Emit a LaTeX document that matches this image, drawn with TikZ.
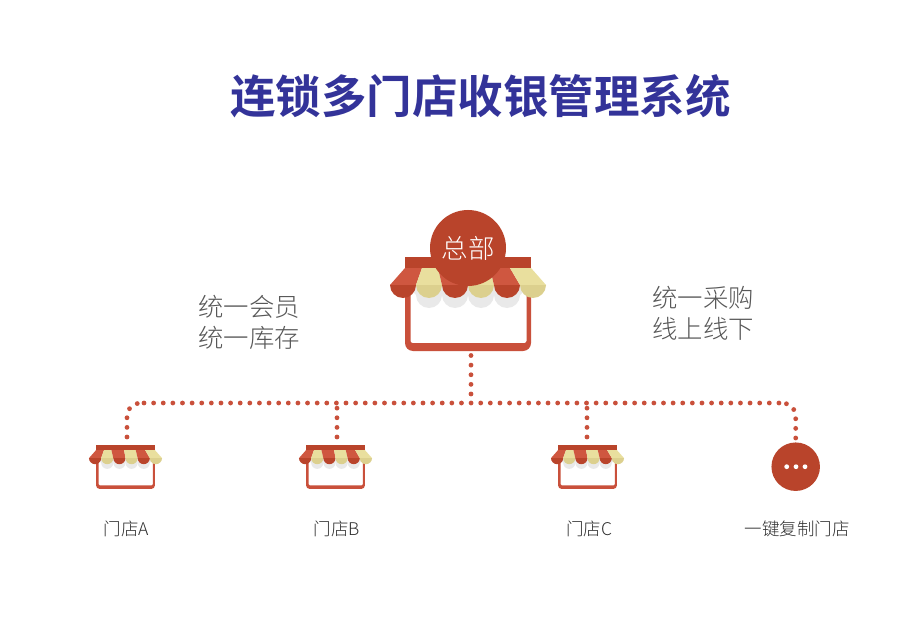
\documentclass[tikz,border=0pt]{standalone}
\usepackage{fontspec}
\setmainfont{Noto Sans CJK SC}
\newfontfamily\cjkbold[BoldFont=*]{Noto Sans CJK SC Bold}
\newfontfamily\cjklight{Noto Sans CJK SC Light}
\definecolor{brick}{HTML}{B9442B}
\definecolor{bodyred}{HTML}{C9503B}
\definecolor{lightred}{HTML}{CF5740}
\definecolor{lightyel}{HTML}{E9DF9E}
\definecolor{darkyel}{HTML}{DCD08E}
\definecolor{lobegrey}{HTML}{E9E9E9}
\definecolor{titleblue}{HTML}{333399}
\tikzset{
  x=1pt,y=-1pt,
  busline/.style={draw=bodyred,line width=4.8pt,line cap=round,dash pattern=on 0pt off 9.62pt},
  hubdisc/.style={circle,fill=brick,inner sep=0pt,text=white},
  captiontext/.style={text=black!82,font=\cjklight\fontsize{17.5}{21}\selectfont,inner sep=0pt},
  sidetext/.style={text=black!66,font=\cjklight\fontsize{25.4}{31}\selectfont,align=left,inner sep=0pt,anchor=west},
  storebox/.style={rectangle,inner sep=0pt,minimum width=#1*156pt,minimum height=#1*94pt,anchor=north},
  pics/shop/.style={code={
    % body frame: open at the top, rounded at the bottom
    \fill[bodyred] (-63,20) [rounded corners=#1*8pt] -- (-63,94) -- (63,94) [sharp corners] -- (63,20) -- (58.5,20) [rounded corners=#1*2pt] -- (58.5,86) -- (-57.5,86) [sharp corners] -- (-57.5,20) -- cycle;
    % grey lobes
    \foreach \c in {-39,-13,13,39}{\fill[lobegrey] (\c-13,28) -- (\c+13,28) -- (\c+13,38) arc[start angle=0,end angle=180,radius=13] -- (\c-13,28) -- cycle;}
    \fill[lobegrey] (-57.5,28) -- (-52,28) -- (-52,38) -- (-57.5,32) -- cycle;
    \fill[lobegrey] (58.5,28) -- (52,28) -- (52,38) -- (58.5,32) -- cycle;
    % bar
    \fill[brick] (-63,0) rectangle (63,11);
    % awning
    \foreach \xa/\xb/\xc/\cl/\cd in {-63/-46/-78/lightred/brick,-46/-30/-52/lightyel/darkyel,-30/-3/-26/lightred/brick,-3/22/0/lightyel/darkyel,22/42/26/lightred/brick,42/63/52/lightyel/darkyel}{
      \pgfmathsetmacro\xd{\xc+26}
      \fill[\cl] (\xa,11) -- (\xb,11) -- (\xd,28) -- (\xc,28) -- cycle;
      \fill[\cd] (\xc,28) arc[start angle=180,end angle=0,radius=13] -- cycle;
    }
  }}
}
\begin{document}
\begin{tikzpicture}
\useasboundingbox (0,0) rectangle (913,639);
\fill[white] (0,0) rectangle (913,639);
% title
\node[text=titleblue,inner sep=0pt] (title) at (480.5,96) {\fontsize{45.5}{50}\selectfont\addfontfeature{FakeBold=1.5}\cjkbold 连锁多门店收银管理系统};
% stores
\pic at (468,257) {shop=1};
\node[storebox=1] (hq) at (468,257) {};
\pic[scale=.468] at (125.5,445) {shop=.468};
\node[storebox=.468] (sa) at (125.5,445) {};
\pic[scale=.468] at (335.5,445) {shop=.468};
\node[storebox=.468] (sb) at (335.5,445) {};
\pic[scale=.468] at (587.5,445) {shop=.468};
\node[storebox=.468] (sc) at (587.5,445) {};
\node[hubdisc,minimum size=76pt] (hub) at (468,248) {\cjklight\fontsize{26.5}{30}\selectfont 总部};
\node[hubdisc,minimum size=48.5pt] (more) at (795.7,466.7) {};
\fill[white] (786.7,466.7) circle[radius=2.4] (796,466.7) circle[radius=2.4] (805,466.7) circle[radius=2.4];
% connectors
\coordinate (pa) at (127,437);
\coordinate (pb) at (337,437);
\coordinate (pc) at (587,437);
\coordinate (pe) at (795.7,438);
\coordinate (ph) at (471,355.5);
\coordinate (busl) at (137,403);
\coordinate (busa) at (144,403);
\coordinate (busb) at (781,403);
\coordinate (busr) at (787,403);
\path[busline,rounded corners=13pt] (pa) |- (busl);
\path[busline] (busa) -- (busb);
\path[busline,rounded corners=13pt] (pe) |- (busr);
\path[busline] (ph) -- (ph |- busa);
\path[busline] (pb) -- (pb |- busa);
\path[busline] (pc) -- (pc |- busa);
% labels
\node[sidetext] (left) at (198,322.5) {统一会员\\统一库存};
\node[sidetext] (right) at (652,313.5) {统一采购\\线上线下};
\node[captiontext] (la) at (126.5,529) {门店A};
\node[captiontext] (lb) at (337,529) {门店B};
\node[captiontext] (lc) at (589,529) {门店C};
\node[captiontext] (le) at (797,529) {一键复制门店};
\end{tikzpicture}
\end{document}
